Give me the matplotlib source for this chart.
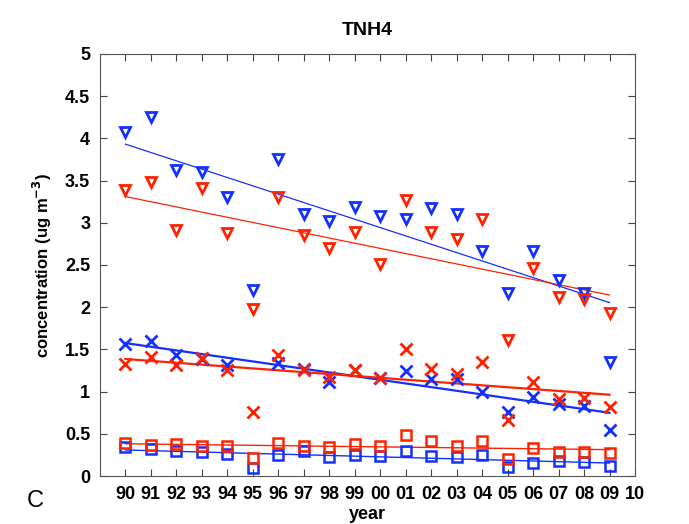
import numpy as np
import matplotlib
matplotlib.use("Agg")
import matplotlib.pyplot as plt

plt.rcParams['font.family'] = ['Liberation Sans', 'DejaVu Sans']

years = np.arange(0, 20)  # 0 = 1990
tick_labels = ['90','91','92','93','94','95','96','97','98','99','00',
               '01','02','03','04','05','06','07','08','09','10']

blue_tri = [4.08, 4.25, 3.62, 3.60, 3.30, 2.20, 3.76, 3.10, 3.02, 3.19, 3.08,
            3.05, 3.17, 3.10, 2.67, 2.17, 2.66, 2.32, 2.17, 1.35]
red_tri = [3.39, 3.48, 2.91, 3.41, 2.88, 1.98, 3.31, 2.85, 2.70, 2.89, 2.51,
           3.27, 2.89, 2.81, 3.04, 1.61, 2.47, 2.12, 2.10, 1.93]
blue_x = [1.56, 1.60, 1.43, 1.39, 1.31, np.nan, 1.34, 1.27, 1.11, 1.25, 1.16,
          1.24, 1.15, 1.15, 0.99, 0.76, 0.94, 0.85, 0.83, 0.55]
red_x = [1.33, 1.41, 1.31, 1.40, 1.26, 0.76, 1.43, 1.25, 1.17, 1.26, 1.16,
         1.50, 1.27, 1.21, 1.35, 0.66, 1.11, 0.91, 0.92, 0.82]
blue_sq = [0.34, 0.32, 0.30, 0.29, 0.26, 0.10, 0.25, 0.30, 0.22, 0.25, 0.24,
           0.30, 0.24, 0.23, 0.25, 0.11, 0.15, 0.18, 0.17, 0.12]
red_sq = [0.39, 0.37, 0.38, 0.36, 0.36, 0.21, 0.39, 0.36, 0.34, 0.38, 0.36,
          0.48, 0.41, 0.35, 0.42, 0.20, 0.33, 0.29, 0.29, 0.27]

BLUE = '#1430ff'
RED = '#ff2200'

fig = plt.figure(figsize=(6.89, 5.24), dpi=100)
ax = fig.add_axes([0.145, 0.0916, 0.7766, 0.8054])

def fit_line(y, color, lw):
    y = np.asarray(y, float)
    m = ~np.isnan(y)
    p = np.polyfit(years[m], y[m], 1)
    ax.plot(years, np.polyval(p, years), '-', color=color, lw=lw, zorder=2)

series = [
    (blue_tri, 'v', BLUE, 0.9, 7.5, 2.0),
    (red_tri, 'v', RED, 0.9, 7.5, 2.0),
    (blue_x, 'x', BLUE, 1.6, 8, 2.0),
    (red_x, 'x', RED, 1.6, 8, 2.0),
    (blue_sq, 's', BLUE, 1.0, 6.5, 1.8),
    (red_sq, 's', RED, 1.0, 6.5, 1.8),
]
for y, mk, c, lw, ms, mew in series:
    ax.plot(years, y, mk, color=c, mfc='none', mec=c, mew=mew, ms=ms, zorder=3)
    fit_line(y, c, lw)

ax.set_xlim(-1, 20)
ax.set_ylim(0, 5)
ax.set_xticks(np.arange(0, 21))
ax.set_xticklabels(tick_labels)
ax.set_yticks(np.arange(0, 5.01, 0.5))
ax.set_yticklabels(['0', '0.5', '1', '1.5', '2', '2.5', '3', '3.5', '4', '4.5', '5'])
ax.tick_params(direction='in', top=True, right=True, length=5, width=0.8,
               labelsize=13, color='#444444', pad=7)
for lab in ax.get_xticklabels() + ax.get_yticklabels():
    lab.set_fontweight('bold')
for s in ax.spines.values():
    s.set_color('#555555')
    s.set_linewidth(0.8)

ax.set_title('TNH4', fontsize=14, fontweight='bold', pad=14)
ax.set_ylabel('concentration (ug m$^{\\mathbf{-3}}$)', fontsize=12, fontweight='bold')
ax.yaxis.set_label_coords(-0.085, 0.5)
ax.set_xlabel('year', fontsize=13, fontweight='bold', labelpad=2)
fig.text(0.051, 0.044, 'C', fontsize=17, ha='center', va='center')

fig.savefig('out.png', dpi=100)
